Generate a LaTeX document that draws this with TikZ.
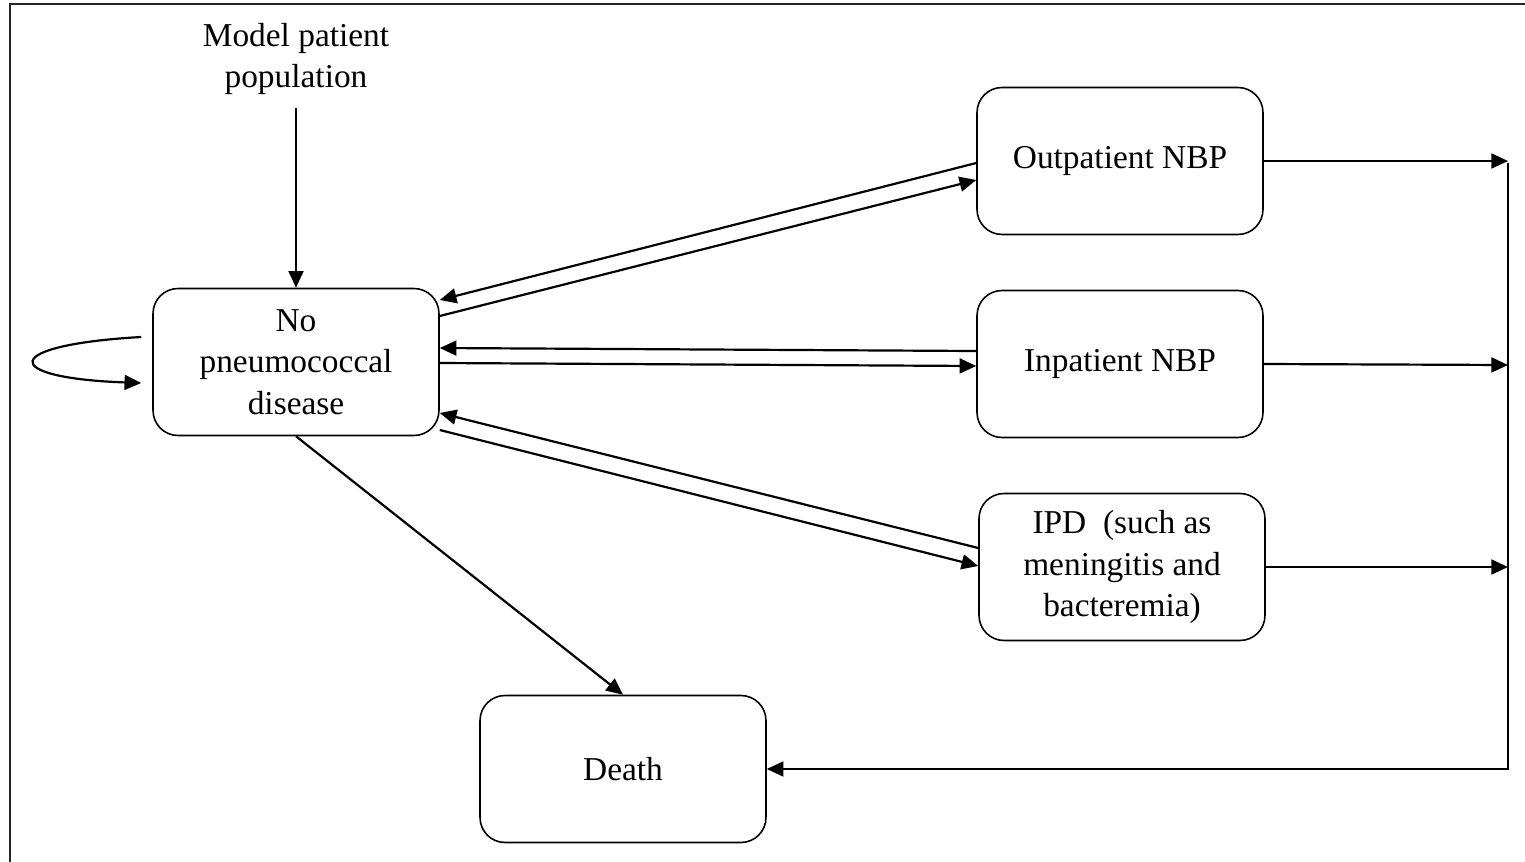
\documentclass[tikz,border=0pt]{standalone}
\usepackage{fontspec}
\setmainfont{Liberation Serif}
\usepackage{tikz}
\usetikzlibrary{arrows.meta}

\tikzset{
  state/.style={draw, line width=0.9pt, rounded corners=0.5cm, minimum width=5.72cm,
    minimum height=2.94cm, align=center, font=\fontsize{19}{23.5}\selectfont},
  flow/.style={->, line width=1.25pt}
}

\begin{document}
\begin{tikzpicture}[x=0.02cm, y=-0.02cm, >={Triangle[length=9.5pt,width=8.5pt]}]
  \useasboundingbox (0,0) rectangle (1525,862);
  \draw[line width=1.2pt, color=black!85] (1525,4) -- (10,4) -- (10,862);

  \node[align=center, font=\fontsize{19}{23.5}\selectfont] (model) at (296,59) {Model patient\\population};
  \node[state] (no) at (296,362) {No\\pneumococcal\\disease};
  \node[state] (outp) at (1120,161) {Outpatient NBP};
  \node[state] (inp) at (1120,364) {Inpatient NBP};
  \node[state] (ipd) at (1122,567) {IPD \ (such as\\meningitis and\\bacteremia)};
  \node[state] (death) at (623,769) {Death};

  \coordinate (outr) at (1508,161);
  \coordinate (inpr) at (1508,365);
  \coordinate (ipdr) at (1508,567);
  \coordinate (bus) at (1508,163);

  \draw[flow] ([yshift=-0.15cm]model.south) -- (no.north);
  \draw[flow] ([xshift=-0.22cm,yshift=0.5cm]no.west) .. controls (-1,345) and (-1,378) .. ([xshift=-0.22cm,yshift=-0.42cm]no.west);

  % to and from the three disease states
  \draw[flow] ([yshift=-0.04cm]outp.west) -- ([yshift=1.24cm]no.east);
  \draw[flow] ([yshift=0.92cm]no.east) -- ([yshift=-0.38cm]outp.west);
  \draw[flow] ([yshift=0.26cm]inp.west) -- ([yshift=0.28cm]no.east);
  \draw[flow] ([yshift=-0.02cm]no.east) -- ([yshift=-0.04cm]inp.west);
  \draw[flow] ([yshift=0.38cm]ipd.west) -- ([yshift=-1.02cm]no.east);
  \draw[flow] ([yshift=-1.36cm]no.east) -- ([yshift=0.02cm]ipd.west);

  \draw[flow] (no.south) -- (death.north);

  \draw[flow] (outp.east) -- (outr);
  \draw[flow] (inp.east) -- (inpr);
  \draw[flow] (ipd.east) -- (ipdr);
  \draw[flow] (bus) |- (death.east);
\end{tikzpicture}
\end{document}
